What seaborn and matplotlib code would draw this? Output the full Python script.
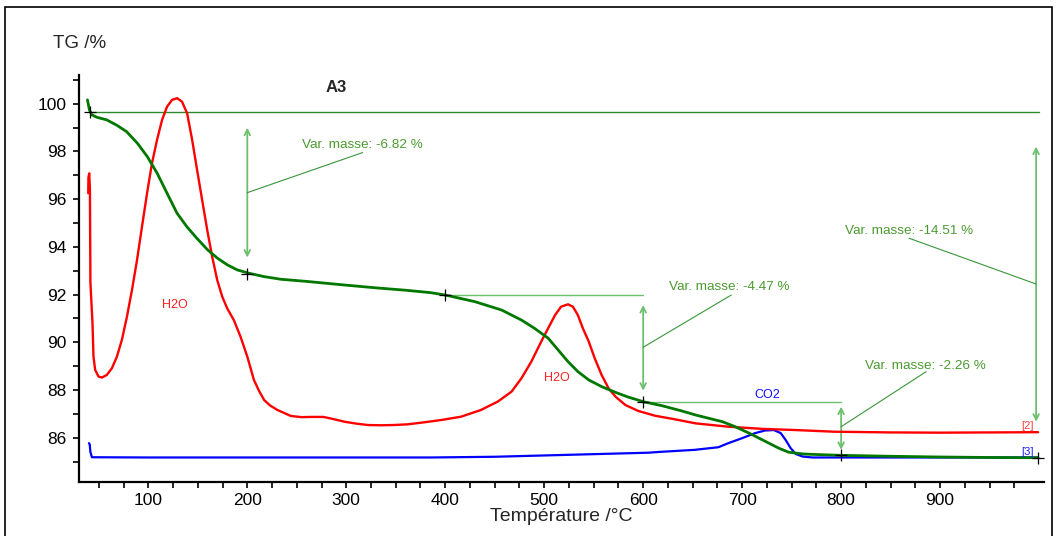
import numpy as np
import pandas as pd
import seaborn as sns
import matplotlib.pyplot as plt
from matplotlib.patches import Rectangle
from matplotlib.ticker import FixedLocator

sns.set_style('ticks')
plt.rcParams['font.family'] = ['Liberation Sans', 'DejaVu Sans']

# courbe TG (%)
temp_tg = [38.5, 40.5, 43, 48, 58, 68, 78, 89, 99, 109, 119, 129, 139, 149, 160, 170, 180, 190,
           202, 217, 234, 260, 298, 330, 360, 385, 400, 430, 457, 477, 490, 504, 514, 524, 534,
           545, 558, 572, 585, 600, 619, 639, 653, 680, 693, 707, 717, 727, 737, 747, 761, 771,
           800, 850, 900, 950, 999]
tg = [100.16, 99.74, 99.53, 99.43, 99.32, 99.1, 98.83, 98.34, 97.78, 97.08, 96.24, 95.41, 94.84,
      94.36, 93.87, 93.52, 93.24, 93.03, 92.89, 92.75, 92.64, 92.55, 92.4, 92.28, 92.18, 92.08,
      91.98, 91.7, 91.35, 90.93, 90.59, 90.17, 89.68, 89.19, 88.77, 88.42, 88.14, 87.9, 87.7,
      87.51, 87.34, 87.12, 86.95, 86.67, 86.46, 86.19, 85.98, 85.77, 85.56, 85.39, 85.32, 85.3,
      85.26, 85.22, 85.19, 85.17, 85.16]

# signal H2O (échelle du graphe)
temp_h2o = [39.3, 39.5, 40.3, 41, 41.5, 43.6, 44.6, 46.3, 49.7, 53.1, 58.1, 63.2, 68.3, 73.3,
            78.4, 83.5, 88.6, 93.6, 98.7, 103.7, 108.8, 113.9, 118.9, 124, 129.1, 134.1, 139.2,
            144.3, 149.3, 154.4, 159.5, 164.5, 169.6, 174.7, 179.7, 186.4, 193.2, 200, 206.7,
            212, 217, 223, 230.5, 244, 255, 264, 277, 287, 298, 310, 322, 335, 348, 362, 376,
            396, 416, 436, 453, 467, 477, 487, 497, 504, 511, 517, 524, 529, 534, 539, 545, 551,
            558, 565, 572, 582, 595, 612, 632, 653, 686, 720, 754, 793, 850, 900, 950, 999]
h2o = [96.25, 96.9, 97.08, 96.4, 92.5, 90.8, 89.4, 88.84, 88.56, 88.52, 88.63, 88.91, 89.4, 90.1,
       91.07, 92.19, 93.45, 94.84, 96.24, 97.5, 98.48, 99.32, 99.87, 100.16, 100.23, 100.08, 99.6,
       98.48, 97.22, 95.96, 94.71, 93.59, 92.61, 91.91, 91.42, 90.93, 90.23, 89.4, 88.42, 87.95,
       87.58, 87.35, 87.16, 86.91, 86.86, 86.87, 86.87, 86.78, 86.67, 86.59, 86.53, 86.52, 86.53,
       86.56, 86.63, 86.74, 86.88, 87.16, 87.51, 87.93, 88.49, 89.19, 90.03, 90.59, 91.14, 91.49,
       91.59, 91.49, 91.14, 90.59, 90.03, 89.33, 88.63, 88.07, 87.72, 87.37, 87.12, 86.92, 86.77,
       86.6, 86.46, 86.37, 86.32, 86.25, 86.22, 86.21, 86.22, 86.23]

# signal CO2
temp_co2 = [40, 40.8, 41.5, 43, 100, 200, 300, 386, 450, 523, 605, 619, 652, 676, 686, 700, 713,
            723, 732, 739, 744, 749, 754, 761, 771, 850, 950, 999]
co2 = [85.77, 85.72, 85.4, 85.18, 85.17, 85.17, 85.17, 85.17, 85.2, 85.28, 85.37, 85.41, 85.49,
       85.6, 85.77, 85.98, 86.19, 86.3, 86.32, 86.19, 85.9, 85.56, 85.32, 85.21, 85.17, 85.17,
       85.17, 85.17]

# points de mesure (+)
cross_t = [41, 200, 400, 600, 800, 999]
cross_v = [99.67, 92.86, 91.98, 87.51, 85.26, 85.16]

# variations de masse : (x flèche, haut, bas, texte, x texte, y texte, pied du trait, bout du trait)
steps = [
    (200, 98.99, 93.55, 'Var. masse: -6.82 %', 255, 98.26, 96.27, (316.5, 97.95)),
    (600, 91.56, 87.97, 'Var. masse: -4.47 %', 626, 92.3, 89.79, (689, 91.98)),
    (800, 87.3, 85.49, 'Var. masse: -2.26 %', 824, 89.0, 86.46, (886, 88.77)),
    (997, 98.2, 86.67, 'Var. masse: -14.51 %', 804, 94.68, 92.44, (868.6, 94.36)),
]
# paliers horizontaux
shelves = [(40, 1000, 99.67), (400, 600, 91.98), (600, 800, 87.51)]

dark_green = '#007800'
light_green = '#6cbf6c'
text_green = '#4a9a30'

fig = plt.figure(figsize=(10.58, 5.36), dpi=100)
ax = fig.add_axes([0.0747, 0.1002, 0.9121, 0.7598])

# cadre extérieur
fig.patches.append(Rectangle((5 / 1058, -0.02), 1047 / 1058, 1.007, transform=fig.transFigure,
                             fill=False, edgecolor='black', lw=1.2))

for i, (x0, x1, y) in enumerate(shelves):
    ax.plot([x0, x1], [y, y], color='#2a8a2a' if i == 0 else light_green, lw=1.0, zorder=1)

for xa, top, bot, label, xt, yt, yfoot, tip in steps:
    ax.annotate('', xy=(xa, bot), xytext=(xa, top),
                arrowprops=dict(arrowstyle='<->', color=light_green, lw=1.3,
                                shrinkA=0, shrinkB=0, mutation_scale=10), zorder=1)
    ax.plot([xa, tip[0]], [yfoot, tip[1]], color='#3a963a', lw=0.8, zorder=1)
    ax.text(xt, yt, label, color=text_green, fontsize=9.7, ha='left', va='center')

sns.lineplot(x=temp_co2, y=co2, sort=False, estimator=None, color='#0000ff', lw=1.6, ax=ax)
sns.lineplot(x=temp_h2o, y=h2o, sort=False, estimator=None, color='#ff0000', lw=1.7, ax=ax)
sns.lineplot(x=temp_tg, y=tg, sort=False, estimator=None, color=dark_green, lw=2.0, ax=ax)
ax.plot(cross_t, cross_v, ls='none', marker='+', ms=8, mew=0.9, color='black', zorder=5)

ax.text(114, 91.55, 'H2O', color='#ff2020', fontsize=9, ha='left', va='center')
ax.text(500, 88.5, 'H2O', color='#ff2020', fontsize=9, ha='left', va='center')
ax.text(712, 87.8, 'CO2', color='#1010ff', fontsize=9, ha='left', va='center')
ax.text(982, 86.5, '[2]', color='#ff4040', fontsize=8, ha='left', va='center')
ax.text(982, 85.42, '[3]', color='#2020ff', fontsize=8, ha='left', va='center')
ax.text(289.5, 100.66, 'A3', fontsize=12, fontweight='bold', ha='center', va='center')

ax.set_xlim(30, 1005)
ax.set_ylim(84.13, 101.2)
ax.xaxis.set_major_locator(FixedLocator(list(range(100, 1000, 100))))
ax.xaxis.set_minor_locator(FixedLocator([t for t in range(50, 1000, 25) if t % 100]))
ax.yaxis.set_major_locator(FixedLocator(list(range(86, 101, 2))))
ax.yaxis.set_minor_locator(FixedLocator(list(range(85, 102, 2))))
ax.tick_params(which='both', direction='out', length=4, width=1.2, colors='black',
               labelsize=12.5)
ax.tick_params(axis='x', pad=4)
ax.tick_params(axis='y', pad=5)
sns.despine(ax=ax)
for s in ['left', 'bottom']:
    ax.spines[s].set_linewidth(1.6)
    ax.spines[s].set_color('black')

ax.set_xlabel('Température /°C', fontsize=14, labelpad=0)
ax.set_ylabel('')
fig.text(53 / 1058, 1 - 44 / 536, 'TG /%', fontsize=13.5, ha='left', va='center')

fig.savefig('out.png', dpi=100)
